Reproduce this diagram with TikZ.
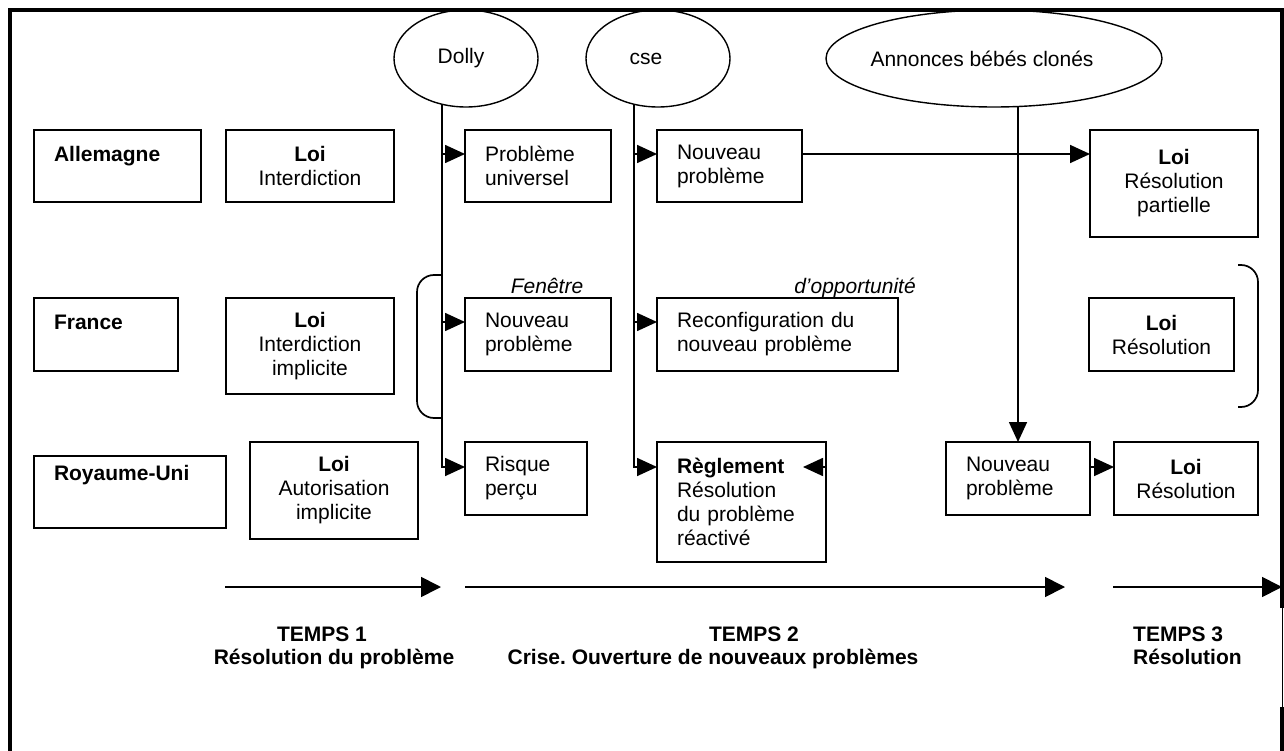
\documentclass[tikz,border=0pt]{standalone}
\usepackage{fontspec}
\setmainfont{Liberation Sans}
\usetikzlibrary{arrows.meta,calc,shapes.geometric}
\newcommand\bodyfont{\fontsize{21}{24}\selectfont}
\frenchspacing
\begin{document}
\begin{tikzpicture}[x=1pt,y=-1pt,
  every node/.style={font=\bodyfont},
  box/.style={draw, line width=1.6pt, anchor=north west, inner ysep=0pt, outer sep=0pt},
  lbox/.style={box, align=left, inner xsep=20pt},
  cbox/.style={box, align=center, inner xsep=4pt},
  oval/.style={draw, ellipse, line width=1.4pt, inner sep=0pt, outer sep=0pt},
  lin/.style={line width=1.7pt},
  arr/.style={lin, -{Triangle[length=20pt,width=18pt]}},
  tarr/.style={lin, -{Triangle[length=20pt,width=20pt]}},
  lab/.style={inner sep=0pt},
  boldlab/.style={lab, font=\bodyfont\bfseries},
]
\useasboundingbox (0,0) rectangle (1284,751);

% outer frame
\draw[line width=4pt] (10.3,751) -- (10.3,10.3) -- (1282,10.3) -- (1282,608);
\draw[line width=1pt] (1282.5,608) -- (1282.5,707);
\draw[line width=4pt] (1282,707) -- (1282,751);

% events (labels sit slightly left of each oval's centre)
\node[oval, minimum width=144pt, minimum height=97pt] (dolly) at (466,58.5) {\hspace*{-10pt}Dolly};
\node[oval, minimum width=144pt, minimum height=97pt] (cse) at (658,58.5) {\hspace*{-24pt}cse};
\node[oval, minimum width=336pt, minimum height=97pt] (ann) at (994,58.5) {\hspace*{-24pt}Annonces bébés clonés};

% Allemagne
\node[lbox, text width=127pt, minimum height=72pt] (A1) at (34,130) {\textbf{Allemagne}\\\mbox{}};
\node[cbox, text width=160pt, minimum height=72pt] (A2) at (226,130) {\textbf{Loi}\\Interdiction};
\node[lbox, text width=106pt, minimum height=72pt] (A3) at (465,130) {Problème\\universel};
\node[lbox, text width=105pt, minimum height=72pt] (A4) at (657,130) {Nouveau\\problème};
\node[cbox, text width=160pt, minimum height=107pt] (A5) at (1090,130) {\textbf{Loi}\\Résolution\\partielle};

% France
\node[lbox, text width=104pt, minimum height=73pt] (F1) at (34,298) {\textbf{France}\\\mbox{}};
\node[cbox, text width=160pt, minimum height=96pt] (F2) at (226,298) {\textbf{Loi}\\Interdiction\\implicite};
\node[lbox, text width=106pt, minimum height=73pt] (F3) at (465,298) {Nouveau\\problème};
\node[lbox, text width=201pt, minimum height=73pt] (F4) at (657,298) {Reconfiguration du\\nouveau problème};
\node[cbox, text width=137pt, minimum height=73pt] (F5) at (1089,298) {\textbf{Loi}\\Résolution};

% Royaume-Uni
\node[lbox, text width=152pt, minimum height=72pt] (R1) at (34,456) {\textbf{Royaume-Uni}\\[15pt]\mbox{}};
\node[cbox, text width=160pt, minimum height=97pt] (R2) at (250,442) {\textbf{Loi}\\Autorisation\\implicite};
\node[lbox, text width=82pt, minimum height=73pt] (R3) at (465,442) {Risque\\perçu};
\node[lbox, text width=129pt, minimum height=120pt] (R4) at (657,442) {\textbf{Règlement}\\Résolution\\du problème\\réactivé};
\node[lbox, text width=104pt, minimum height=73pt] (R5) at (946,442) {Nouveau\\problème};
\node[cbox, text width=136pt, minimum height=73pt] (R6) at (1114,442) {\textbf{Loi}\\Résolution};

% arrow targets on the first text line of each box
\coordinate (pA3) at ($(A3.north west)+(0,24)$);
\coordinate (pF3) at ($(F3.north west)+(0,24)$);
\coordinate (pR3) at ($(R3.north west)+(0,25)$);
\coordinate (pA4) at ($(A4.north west)+(0,24)$);
\coordinate (pF4) at ($(F4.north west)+(0,24)$);
\coordinate (pR4) at ($(R4.north west)+(0,25)$);
\coordinate (pR5) at ($(R5.north west)+(0,25)$);

% Dolly
\draw[arr] (dolly.-118) |- (pR3);
\draw[arr] (dolly.-118 |- pA3) -- (pA3);
\draw[arr] (dolly.-118 |- pF3) -- (pF3);

% cse
\draw[arr] (cse.-118) |- (pR4);
\draw[arr] (cse.-118 |- pA4) -- (pA4);
\draw[arr] (cse.-118 |- pF4) -- (pF4);
\draw[arr] (R4.east |- pR4) -- ++(-23,0);

% Allemagne: new problem to partial resolution
\draw[arr] (A4.east |- pA4) -- (A5.west |- pA4);

% cloned babies announcement
\draw[arr] (ann.-64.5 -| R5.north) -- (R5.north);
\draw[arr] (R5.east |- pR5) -- (R6.west |- pR5);

% window of opportunity
\draw[lin, rounded corners=17pt] (442,275) -- (417,275) -- (417,418) -- (442,418);
\draw[lin, rounded corners=17pt] (1238,265) -- (1258,265) -- (1258,407) -- (1238,407);
\node[lab, anchor=base, font=\bodyfont\itshape] (fen) at (547,293) {Fenêtre};
\node[lab, anchor=base, font=\bodyfont\itshape] (opp) at (855,293) {d’opportunité};

% time axis
\coordinate (t1s) at (225,587);  \coordinate (t1e) at (441,587);
\coordinate (t2s) at (465,587);  \coordinate (t2e) at (1065,587);
\coordinate (t3s) at (1113,587); \coordinate (t3e) at (1282,587);
\draw[tarr] (t1s) -- (t1e);
\draw[tarr] (t2s) -- (t2e);
\draw[tarr] (t3s) -- (t3e);

\node[boldlab, anchor=base] (tp1) at (322,641) {TEMPS 1};
\node[boldlab, anchor=base] (tp1b) at (334,664) {Résolution du problème};
\node[boldlab, anchor=base] (tp2) at (754,641) {TEMPS 2};
\node[boldlab, anchor=base] (tp2b) at (713,664) {Crise. Ouverture de nouveaux problèmes};
\node[boldlab, anchor=base west] (tp3) at (1133,641) {TEMPS 3};
\node[boldlab, anchor=base west] (tp3b) at (1133,664) {Résolution};
\end{tikzpicture}
\end{document}
